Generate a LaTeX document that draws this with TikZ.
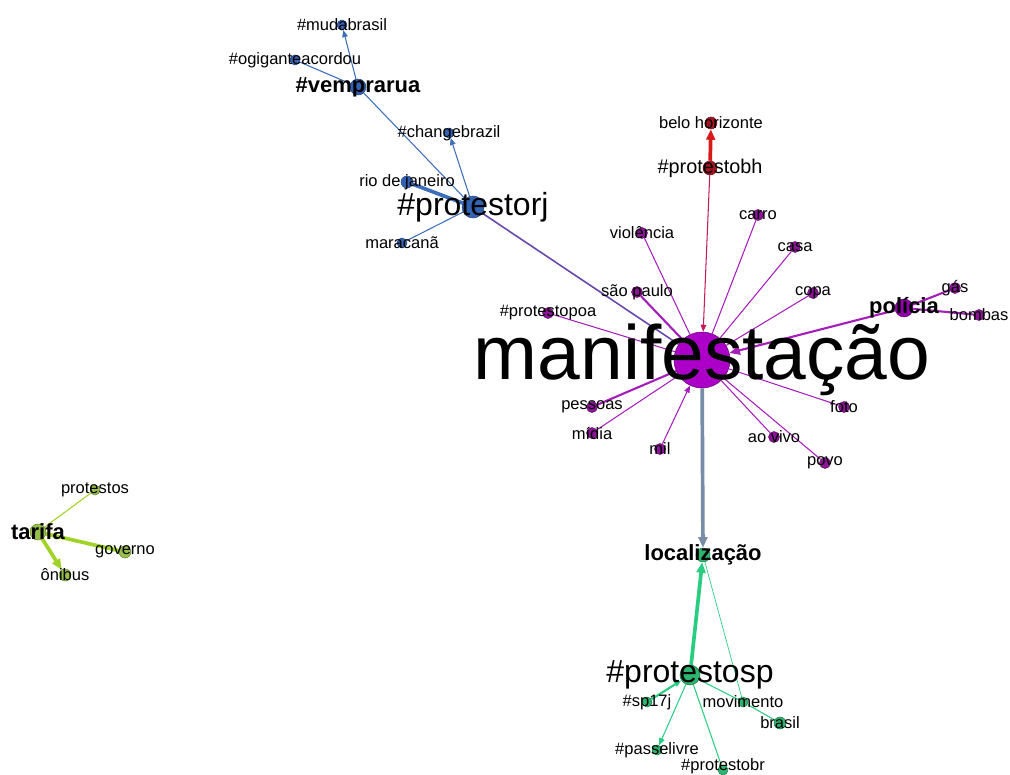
\documentclass[tikz,border=0pt]{standalone}
\usepackage{fontspec}
\setmainfont{Liberation Sans}
\usetikzlibrary{arrows.meta,backgrounds}

\definecolor{rjblue}{RGB}{52,98,178}
\definecolor{edgeblue}{RGB}{60,110,185}
\definecolor{rjmani}{RGB}{105,70,170}
\definecolor{manipurple}{RGB}{172,0,200}
\definecolor{dotpurple}{RGB}{140,20,150}
\definecolor{edgepurple}{RGB}{165,30,185}
\definecolor{bhred}{RGB}{165,20,35}
\definecolor{edgered}{RGB}{215,25,25}
\definecolor{spgreen}{RGB}{45,180,110}
\definecolor{edgegreen}{RGB}{40,205,130}
\definecolor{limedot}{RGB}{150,190,75}
\definecolor{edgelime}{RGB}{160,210,40}
\definecolor{locgray}{RGB}{120,140,165}

\begin{document}
\begin{tikzpicture}[x=0.02cm, y=-0.02cm,
    dot/.style={circle, inner sep=0pt, minimum size=#1*0.4mm, line width=0.3pt},
    small/.style={font=\fontsize{9.4}{10}\selectfont, inner sep=0pt},
    mid/.style={font=\fontsize{11.3}{12}\selectfont, inner sep=0pt},
    boldlbl/.style={font=\fontsize{12.5}{13}\selectfont\bfseries, inner sep=0pt},
    big/.style={font=\fontsize{18.2}{19}\selectfont, inner sep=0pt},
    huge/.style={font=\fontsize{43.7}{44}\selectfont, inner sep=0pt},
    thin/.style={line width=0.6pt},
    medium/.style={line width=1.2pt},
    thick/.style={line width=2.1pt},
    arr/.style={-{Triangle[length=4pt,width=3.2pt]}},
    bigarr/.style={-{Triangle[length=6pt,width=5pt]}}
  ]
\useasboundingbox (0,0) rectangle (1010,774);

% rio cluster
\node[dot=5, fill=rjblue, draw=rjblue!70!black] (mudabrasil) at (342,25) {};
\node[dot=5, fill=rjblue, draw=rjblue!70!black] (ogigante) at (295,60) {};
\node[dot=8, fill=rjblue, draw=rjblue!70!black] (vemprarua) at (358,87) {};
\node[dot=5, fill=rjblue, draw=rjblue!70!black] (changebrazil) at (449,133) {};
\node[dot=6, fill=rjblue, draw=rjblue!70!black] (rio) at (407,182) {};
\node[dot=11, fill=rjblue, draw=rjblue!70!black] (protestorj) at (473,207) {};
\node[dot=5, fill=rjblue, draw=rjblue!70!black] (maracana) at (402,243) {};

% belo horizonte
\node[dot=6, fill=bhred, draw=bhred!70!black] (bh) at (711,123) {};
\node[dot=7, fill=bhred, draw=bhred!70!black] (protestobh) at (710,168) {};

% manifestacao and neighbours
\node[dot=5.5, fill=dotpurple, draw=dotpurple!70!black] (carro) at (758,215) {};
\node[dot=5.5, fill=dotpurple, draw=dotpurple!70!black] (violencia) at (642,233) {};
\node[dot=5.5, fill=dotpurple, draw=dotpurple!70!black] (casa) at (795,247) {};
\node[dot=5.5, fill=dotpurple, draw=dotpurple!70!black] (saopaulo) at (637,292) {};
\node[dot=5.5, fill=dotpurple, draw=dotpurple!70!black] (copa) at (813,293) {};
\node[dot=5.5, fill=dotpurple, draw=dotpurple!70!black] (protestopoa) at (548,313) {};
\node[dot=9, fill=manipurple!85!black, draw=dotpurple!70!black] (policia) at (904,308) {};
\node[dot=5.5, fill=dotpurple, draw=dotpurple!70!black] (gas) at (955,288) {};
\node[dot=5.5, fill=dotpurple, draw=dotpurple!70!black] (bombas) at (979,315) {};
\node[dot=28, fill=manipurple, draw=dotpurple!70!black] (mani) at (702,360) {};
\node[dot=5.5, fill=dotpurple, draw=dotpurple!70!black] (foto) at (844,407) {};
\node[dot=5.5, fill=dotpurple, draw=dotpurple!70!black] (aovivo) at (774,437) {};
\node[dot=5.5, fill=dotpurple, draw=dotpurple!70!black] (povo) at (825,463) {};
\node[dot=5.5, fill=dotpurple, draw=dotpurple!70!black] (pessoas) at (592,407) {};
\node[dot=5.5, fill=dotpurple, draw=dotpurple!70!black] (midia) at (592,433) {};
\node[dot=5.5, fill=dotpurple, draw=dotpurple!70!black] (mil) at (660,449) {};

% sao paulo cluster
\node[dot=7, fill=spgreen, draw=spgreen!70!black] (local) at (703,555) {};
\node[dot=10, fill=spgreen, draw=spgreen!70!black] (protestosp) at (690,675) {};
\node[dot=5, fill=spgreen, draw=spgreen!70!black] (sp17j) at (647,702) {};
\node[dot=5, fill=spgreen, draw=spgreen!70!black] (movimento) at (743,702) {};
\node[dot=6, fill=spgreen, draw=spgreen!70!black] (brasil) at (780,723) {};
\node[dot=5, fill=spgreen, draw=spgreen!70!black] (passelivre) at (657,750) {};
\node[dot=5, fill=spgreen, draw=spgreen!70!black] (protestobr) at (723,770) {};

% tarifa
\node[dot=8, fill=limedot, draw=limedot!70!black] (tarifa) at (38,532) {};
\node[dot=5, fill=limedot, draw=limedot!70!black] (protestos) at (95,490) {};
\node[dot=6, fill=limedot, draw=limedot!70!black] (governo) at (125,552) {};
\node[dot=6, fill=limedot, draw=limedot!70!black] (onibus) at (65,575) {};

\begin{scope}[on background layer]
  \draw[thin, edgeblue, arr] (vemprarua) -- (mudabrasil);
  \draw[thin, edgeblue] (ogigante) -- (vemprarua);
  \draw[thin, edgeblue] (protestorj) -- (vemprarua);
  \draw[thin, edgeblue, arr] (protestorj) -- (changebrazil);
  \draw[thick, edgeblue] (rio) -- (protestorj);
  \draw[thin, edgeblue] (maracana) -- (protestorj);
  \draw[line width=0.9pt, rjmani] (protestorj) -- (mani);

  \draw[thick, edgered, bigarr] (protestobh) -- (bh);
  \draw[thin, edgered!60!edgepurple, arr] (protestobh) -- (mani);

  \draw[thin, edgepurple] (violencia) -- (mani);
  \draw[thin, edgepurple] (carro) -- (mani);
  \draw[thin, edgepurple] (casa) -- (mani);
  \draw[medium, edgepurple] (saopaulo) -- (mani);
  \draw[thin, edgepurple] (copa) -- (mani);
  \draw[thin, edgepurple] (protestopoa) -- (mani);
  \draw[medium, edgepurple, bigarr] (policia) -- (mani);
  \draw[medium, edgepurple] (gas) -- (policia);
  \draw[medium, edgepurple] (bombas) -- (policia);
  \draw[medium, edgepurple] (pessoas) -- (mani);
  \draw[thin, edgepurple] (midia) -- (mani);
  \draw[thin, edgepurple, arr] (mil) -- (mani);
  \draw[thin, edgepurple] (foto) -- (mani);
  \draw[thin, edgepurple] (aovivo) -- (mani);
  \draw[thin, edgepurple] (povo) -- (mani);

  \draw[thick, locgray, bigarr] (mani) -- (local);

  \draw[thick, edgegreen, bigarr] (protestosp) -- (local);
  \draw[line width=0.4pt, edgegreen] (movimento) -- (local);
  \draw[medium, edgegreen, arr] (sp17j) -- (protestosp);
  \draw[thin, edgegreen, arr] (protestosp) -- (passelivre);
  \draw[thin, edgegreen] (protestosp) -- (protestobr);
  \draw[thin, edgegreen] (protestosp) -- (movimento);
  \draw[thin, edgegreen] (movimento) -- (brasil);

  \draw[thick, edgelime, bigarr] (tarifa) -- (onibus);
  \draw[thick, edgelime] (tarifa) -- (governo);
  \draw[thin, edgelime] (tarifa) -- (protestos);
\end{scope}

% labels
\node[small] (mudabrasil-t) at (mudabrasil) {\#mudabrasil};
\node[small] (ogigante-t) at (ogigante) {\#ogiganteacordou};
\node[boldlbl] (vemprarua-t) at (vemprarua) {\#vemprarua};
\node[small] (changebrazil-t) at (changebrazil) {\#changebrazil};
\node[small] (rio-t) at (rio) {rio de janeiro};
\node[big] (protestorj-t) at (protestorj) {\#protestorj};
\node[small] (maracana-t) at (maracana) {maracanã};
\node[small] (bh-t) at (bh) {belo horizonte};
\node[mid] (protestobh-t) at (protestobh) {\#protestobh};
\node[small] (carro-t) at (carro) {carro};
\node[small] (violencia-t) at (violencia) {violência};
\node[small] (casa-t) at (casa) {casa};
\node[small] (saopaulo-t) at (saopaulo) {são paulo};
\node[small] (copa-t) at (copa) {copa};
\node[small] (protestopoa-t) at (protestopoa) {\#protestopoa};
\node[boldlbl] (policia-t) at (policia) {polícia};
\node[small] (gas-t) at (gas) {gás};
\node[small] (bombas-t) at (bombas) {bombas};
\node[huge] (mani-t) at (mani) {manifestação};
\node[small] (foto-t) at (foto) {foto};
\node[small] (aovivo-t) at (aovivo) {ao vivo};
\node[small] (povo-t) at (povo) {povo};
\node[small] (pessoas-t) at (pessoas) {pessoas};
\node[small] (midia-t) at (midia) {mídia};
\node[small] (mil-t) at (mil) {mil};
\node[boldlbl] (local-t) at (local) {localização};
\node[big] (protestosp-t) at (protestosp) {\#protestosp};
\node[small] (sp17j-t) at (sp17j) {\#sp17j};
\node[small] (movimento-t) at (movimento) {movimento};
\node[small] (brasil-t) at (brasil) {brasil};
\node[small] (passelivre-t) at (passelivre) {\#passelivre};
\node[small] (protestobr-t) at ([yshift=2pt]protestobr) {\#protestobr};
\node[boldlbl] (tarifa-t) at (tarifa) {tarifa};
\node[small] (protestos-t) at (protestos) {protestos};
\node[small] (governo-t) at (governo) {governo};
\node[small] (onibus-t) at (onibus) {ônibus};
\end{tikzpicture}
\end{document}
